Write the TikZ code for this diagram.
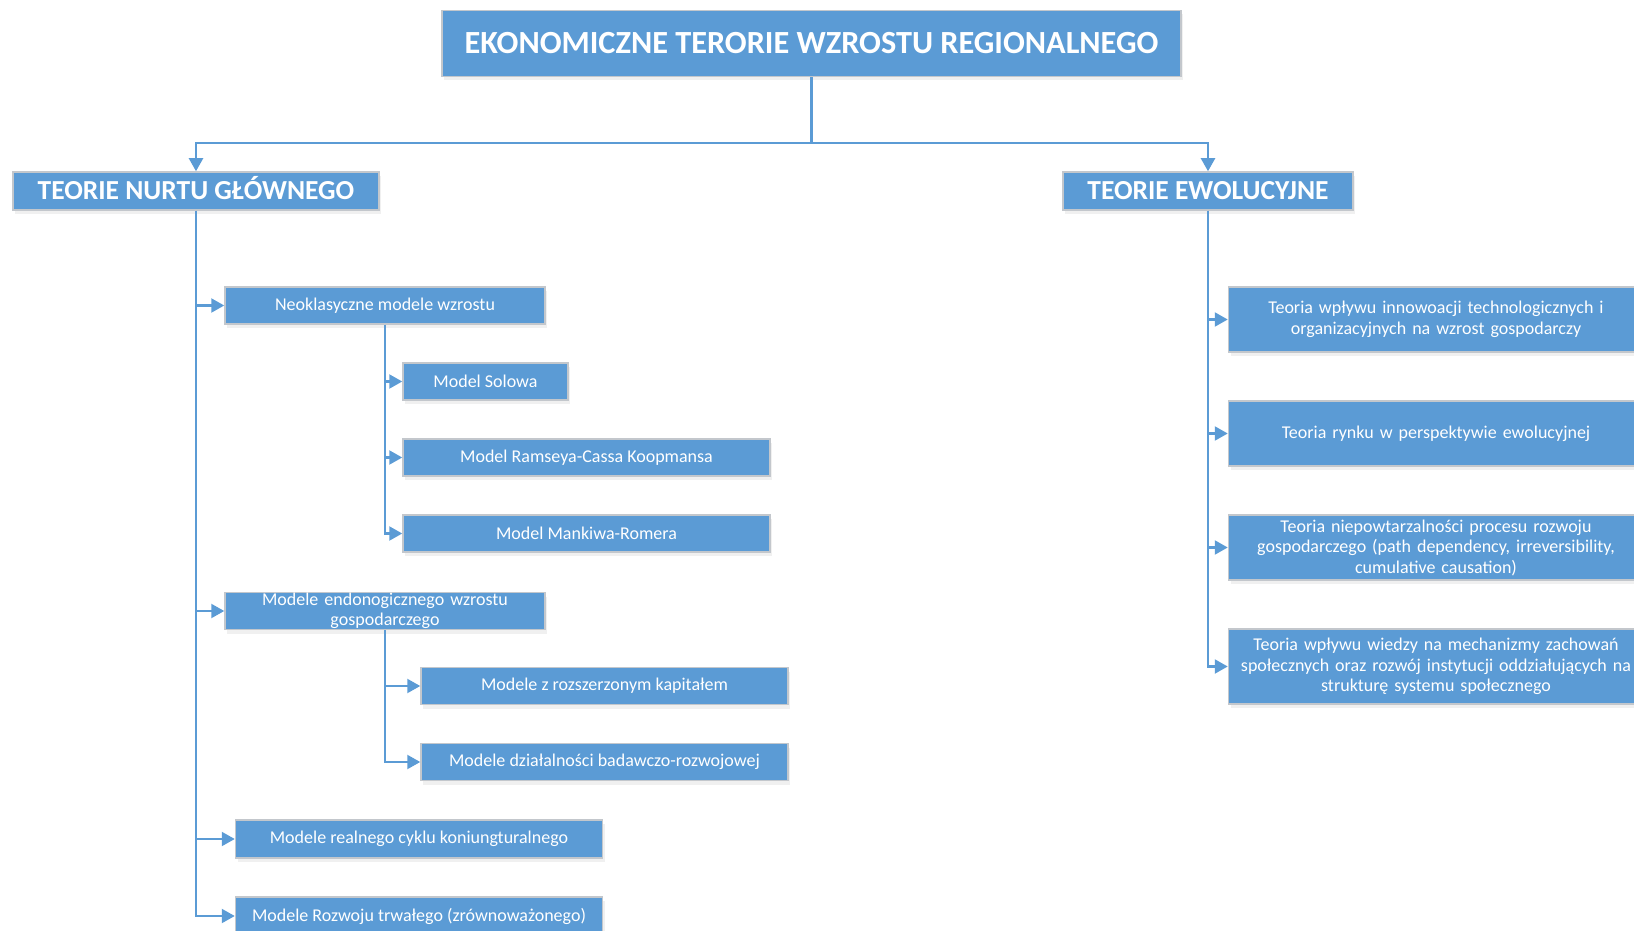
\documentclass[tikz,border=0pt]{standalone}
\usepackage{fontspec}
\setmainfont{Carlito}
\usetikzlibrary{arrows.meta,shadows,calc}

\definecolor{boxblue}{HTML}{5B9BD5}
\definecolor{boxedge}{HTML}{C3C7CC}

\tikzset{
  box/.style={rectangle, fill=boxblue, draw=boxedge, line width=1.5pt,
    text=white, align=center, inner sep=0pt,
    drop shadow={opacity=0.12, shadow xshift=2pt, shadow yshift=-4pt}},
  titlebox/.style={box, font=\fontsize{32.3}{37}\selectfont\bfseries},
  headbox/.style={box, font=\fontsize{27.5}{32}\selectfont\bfseries,
    text height=18pt, text depth=0pt},
  itembox/.style={box, font=\fontsize{18}{20.5}\selectfont},
  link/.style={draw=boxblue, line width=2.2pt},
  arr/.style={link, -{Triangle[length=13pt,width=14pt]}},
}

\begin{document}
\begin{tikzpicture}[x=1pt,y=-1pt]
\useasboundingbox (0,0) rectangle (1634,931);
\clip (0,0) rectangle (1634,931);

% root and the two main branches
\node[titlebox, minimum width=739pt, minimum height=66pt] (top) at (811.5,43.5)
  {EKONOMICZNE TERORIE WZROSTU REGIONALNEGO};
\node[headbox, minimum width=366pt, minimum height=38pt] (nurtu) at (196,191)
  {TEORIE NURTU GŁÓWNEGO};
\node[headbox, minimum width=290pt, minimum height=38pt] (ewol) at (1208,191)
  {TEORIE EWOLUCYJNE};

% mainstream theories
\node[itembox, minimum width=320pt, minimum height=37pt] (neo) at (385,305.5)
  {Neoklasyczne modele wzrostu};
\node[itembox, minimum width=165pt, minimum height=37pt] (solow) at (485.5,381.5)
  {Model Solowa};
\node[itembox, minimum width=367pt, minimum height=37pt] (ramsey) at (586.5,457.5)
  {Model Ramseya-Cassa Koopmansa};
\node[itembox, minimum width=367pt, minimum height=37pt] (mankiw) at (586.5,533.5)
  {Model Mankiwa-Romera};
\node[itembox, text width=300pt, minimum width=320pt, minimum height=37pt] (endo) at (385,611)
  {Modele endonogicznego wzrostu\\[-1pt]gospodarczego};
\node[itembox, minimum width=367pt, minimum height=37pt] (capital) at (604.5,686)
  {Modele z rozszerzonym kapitałem};
\node[itembox, minimum width=367pt, minimum height=37pt] (rnd) at (604.5,762)
  {Modele działalności badawczo-rozwojowej};
\node[itembox, minimum width=367pt, minimum height=38pt] (rbc) at (419,839)
  {Modele realnego cyklu koniungturalnego};
\node[itembox, minimum width=367pt, minimum height=38pt] (sust) at (419,916)
  {Modele Rozwoju trwałego (zrównoważonego)};

% evolutionary theories
\node[itembox, text width=405pt, minimum width=415pt, minimum height=65pt] (innov) at (1436,319.5)
  {Teoria wpływu innowoacji technologicznych i\\organizacyjnych na wzrost gospodarczy};
\node[itembox, text width=405pt, minimum width=415pt, minimum height=65pt] (market) at (1436,433.5)
  {Teoria rynku w perspektywie ewolucyjnej};
\node[itembox, text width=405pt, minimum width=415pt, minimum height=65pt] (path) at (1436,547.5)
  {Teoria niepowtarzalności procesu rozwoju\\gospodarczego (path dependency, irreversibility,\\cumulative causation)};
\node[itembox, text width=410pt, minimum width=415pt, minimum height=75pt] (know) at (1436,666.5)
  {Teoria wpływu wiedzy na mechanizmy zachowań\\społecznych oraz rozwój instytucji oddziałujących na\\strukturę systemu społecznego};

% connectors
\coordinate (split) at ($(top.south)+(0,66)$);
\draw[arr] (top.south) -- (split) -| (nurtu.north);
\draw[arr] (split) -| (ewol.north);

\foreach \child in {neo,endo,rbc,sust}
  \draw[arr] (nurtu.south) |- (\child.west);
\foreach \child in {solow,ramsey,mankiw}
  \draw[arr] (neo.south) |- (\child.west);
\foreach \child in {capital,rnd}
  \draw[arr] (endo.south) |- (\child.west);
\foreach \child in {innov,market,path,know}
  \draw[arr] (ewol.south) |- (\child.west);
\end{tikzpicture}
\end{document}
